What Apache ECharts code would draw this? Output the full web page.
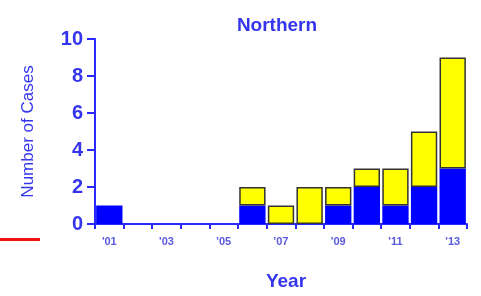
<!DOCTYPE html>
<html>
<head>
<meta charset="utf-8">
<script src="https://cdn.jsdelivr.net/npm/echarts@6/dist/echarts.min.js"></script>
<style>
  html, body { margin: 0; padding: 0; background: #fff; }
  #main { width: 481px; height: 296px; }
</style>
</head>
<body>
<div id="main"></div>
<script>
// data
var years = ['01', '02', '03', '04', '05', '06', '07', '08', '09', '10', '11', '12', '13'];
var blueCases = [1, 0, 0, 0, 0, 1, 0, 0, 1, 2, 1, 2, 3];
var yellowCases = [0, 0, 0, 0, 0, 1, 1, 2, 1, 1, 2, 3, 6];
var yTicks = [0, 2, 4, 6, 8, 10];

var txtColor = '#3535ee';
var axisColor = '#2a2aff';

// empty stacks are not drawn at all (no zero-height outline)
function noZero(arr) {
    return arr.map(function (v) { return v === 0 ? null : v; });
}

var myChart = echarts.init(document.getElementById('main'));

var option = {
    animation: false,
    title: {
        text: 'Northern',
        left: 272,
        top: 11,
        textAlign: 'center',
        textStyle: {
            color: txtColor,
            fontFamily: 'Liberation Sans',
            fontWeight: 'bold',
            fontSize: 19
        }
    },
    grid: {
        left: 95,
        right: 14,
        top: 39,
        bottom: 72,
        containLabel: false
    },
    graphic: [
        {
            type: 'rect',
            left: 0,
            top: 238,
            shape: { width: 40, height: 3 },
            style: { fill: '#ee1111' }
        }
    ],
    xAxis: {
        type: 'category',
        data: years,
        name: 'Year',
        nameLocation: 'middle',
        nameGap: 48,
        nameTextStyle: {
            color: txtColor,
            fontFamily: 'Liberation Sans',
            fontWeight: 'bold',
            fontSize: 19,
            padding: [0, 0, 0, 10]
        },
        axisLine: { lineStyle: { color: axisColor, width: 2 } },
        axisTick: { show: true, interval: 0, length: 5, lineStyle: { color: axisColor, width: 2 } },
        axisLabel: {
            interval: 0,
            margin: 12,
            color: '#5a5ae0',
            fontFamily: 'Liberation Sans',
            fontSize: 11,
            fontWeight: 'bold',
            // only every other year is labelled
            formatter: function (v, i) { return i % 2 === 0 ? "'" + v : ''; }
        },
        splitLine: { show: false }
    },
    yAxis: {
        type: 'value',
        min: yTicks[0],
        max: yTicks[yTicks.length - 1],
        interval: 2,
        name: 'Number of Cases',
        nameLocation: 'middle',
        nameGap: 58,
        nameRotate: 90,
        nameTextStyle: {
            color: txtColor,
            fontFamily: 'Liberation Sans',
            fontSize: 17
        },
        axisLine: { show: true, lineStyle: { color: axisColor, width: 2 } },
        axisTick: { show: true, length: 8, lineStyle: { color: axisColor, width: 2 } },
        axisLabel: {
            margin: 12,
            color: txtColor,
            fontFamily: 'Liberation Sans',
            fontWeight: 'bold',
            fontSize: 20
        },
        splitLine: { show: false }
    },
    series: [
        {
            name: 'blue',
            type: 'bar',
            stack: 'cases',
            data: noZero(blueCases),
            barCategoryGap: '8%',
            itemStyle: { color: '#0000ff' }
        },
        {
            name: 'yellow',
            type: 'bar',
            stack: 'cases',
            data: noZero(yellowCases),
            itemStyle: { color: '#ffff00', borderColor: '#333333', borderWidth: 1.5 }
        }
    ]
};

myChart.setOption(option);
</script>
</body>
</html>
